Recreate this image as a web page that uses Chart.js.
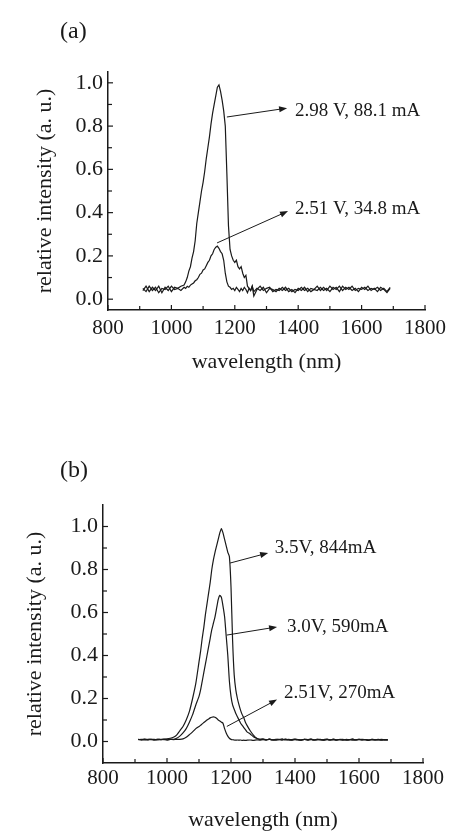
<!DOCTYPE html>
<html>
<head>
<meta charset="utf-8">
<script src="https://cdn.jsdelivr.net/npm/chart.js@4.4.1/dist/chart.umd.min.js"></script>
<style>
    body { margin: 0; background: #fff; }
    .panel { position: absolute; left: 0; width: 454px; }
</style>
</head>
<body>
<div class="panel" style="top:0;height:400px"><canvas id="chartA" width="454" height="400"></canvas></div>
<div class="panel" style="top:420px;height:411px"><canvas id="chartB" width="454" height="411"></canvas></div>
<script>
// tick positions (labels only on every second one)
const xTicks = [800, 900, 1000, 1100, 1200, 1300, 1400, 1500, 1600, 1700, 1800];
const yTicks = [0, 0.1, 0.2, 0.3, 0.4, 0.5, 0.6, 0.7, 0.8, 0.9, 1.0];

// panel (a) - wavelength in nm
const wavelengthA = [
    910, 920, 930, 940, 950, 960, 970, 980, 990, 1000, 1010, 1020, 1030, 1040,
    1045, 1050, 1055, 1060, 1065, 1070, 1075, 1080, 1085, 1090,
    1095, 1100, 1105, 1110, 1115, 1120, 1125, 1130, 1135, 1140,
    1145, 1150, 1155, 1160, 1165, 1170, 1175, 1180, 1185, 1190,
    1195, 1200, 1205, 1210, 1215, 1220, 1225, 1230, 1235, 1240,
    1245, 1250, 1255, 1260,
    1270, 1280, 1290, 1300, 1310, 1320, 1330, 1340, 1350, 1360,
    1370, 1380, 1390, 1400, 1410, 1420, 1430, 1440, 1450, 1460,
    1470, 1480, 1490, 1500, 1510, 1520, 1530, 1540, 1550, 1560,
    1570, 1580, 1590, 1600, 1610, 1620, 1630, 1640, 1650, 1660,
    1670, 1680, 1690
];
const intensityA298 = [
    .05, .035, .06, .04, .055, .03, .05, .045, .06, .035, .055, .05, .06, .065,
    .08, .10, .13, .15, .19, .22, .27, .35, .40, .45,
    .50, .54, .59, .65, .70, .75, .81, .86, .90, .94,
    .98, .99, .96, .92, .87, .80, .58, .34, .23, .20,
    .18, .17, .18, .15, .14, .15, .12, .10, .11, .06,
    .05, .04, .06, .035,
    .05, .04, .055, .03, .05, .045, .035, .05, .04, .055,
    .035, .045, .03, .05, .04, .055, .035, .05, .045, .06,
    .04, .055, .04, .06, .045, .055, .035, .06, .045, .055,
    .04, .05, .035, .055, .045, .06, .04, .05, .035, .055,
    .045, .03, .05
];
const intensityA251 = [
    .04, .06, .035, .055, .04, .06, .03, .055, .04, .06, .045, .05, .04, .055,
    .05, .06, .055, .065, .07, .075, .085, .09, .10, .115,
    .12, .135, .14, .155, .17, .18, .20, .21, .23, .24,
    .245, .235, .22, .21, .18, .12, .08, .06, .055, .045,
    .05, .04, .055, .045, .035, .05, .04, .055, .045, .03,
    .05, .04, .06, .015,
    .045, .06, .04, .05, .055, .035, .045, .04, .055, .04,
    .05, .035, .045, .04, .055, .04, .05, .035, .045, .04,
    .055, .04, .05, .035, .055, .045, .06, .04, .055, .045,
    .06, .04, .05, .045, .055, .04, .05, .045, .055, .04,
    .05, .035, .055
];

// panel (b)
const wavelengthB = [
    910, 920, 930, 940, 950, 960, 970, 980, 990, 1000,
    1010, 1020, 1030, 1040, 1050, 1060, 1070, 1080, 1090,
    1100, 1105, 1110, 1115, 1120, 1125, 1130, 1135, 1140, 1145,
    1150, 1155, 1160, 1165, 1170, 1175, 1180, 1185, 1190, 1195,
    1200, 1205, 1210, 1215, 1220, 1225, 1230, 1235, 1240, 1245, 1250,
    1260, 1270, 1280, 1290, 1300, 1310, 1320, 1330, 1340, 1350,
    1360, 1370, 1380, 1390, 1400, 1410, 1420, 1430, 1440, 1450,
    1460, 1470, 1480, 1490, 1500, 1510, 1520, 1530, 1540, 1550,
    1560, 1570, 1580, 1590, 1600, 1610, 1620, 1630, 1640, 1650,
    1660, 1670, 1680, 1690
];
const intensityB35 = [
    .01, .008, .01, .007, .01, .008, .01, .009, .01, .012,
    .015, .02, .03, .05, .07, .10, .14, .20, .27,
    .37, .42, .48, .53, .59, .64, .69, .74, .80, .845,
    .88, .91, .94, .97, .99, .97, .94, .91, .88, .86,
    .72, .47, .31, .24, .20, .17, .145, .125, .11, .09, .075,
    .05, .03, .015, .01, .012, .008, .011, .007, .01, .009,
    .012, .007, .01, .008, .011, .009, .006, .01, .008, .011,
    .007, .01, .009, .006, .01, .008, .011, .007, .009, .01,
    .006, .009, .011, .007, .01, .008, .009, .006, .01, .008,
    .01, .007, .009, .006
];
const intensityB30 = [
    .008, .01, .007, .01, .009, .01, .008, .01, .009, .008,
    .01, .01, .015, .025, .04, .06, .09, .125, .17,
    .21, .24, .28, .32, .36, .40, .44, .48, .52, .55,
    .58, .62, .66, .68, .67, .63, .58, .49, .40, .28,
    .21, .17, .15, .13, .115, .10, .085, .075, .065, .055, .045,
    .035, .022, .015, .01, .01, .008, .011, .007, .009, .01,
    .008, .011, .007, .009, .01, .008, .006, .01, .009, .011,
    .007, .01, .008, .009, .011, .007, .01, .008, .009, .006,
    .01, .008, .011, .007, .009, .01, .008, .006, .01, .009,
    .007, .01, .008, .009
];
const intensityB251 = [
    .01, .008, .011, .009, .01, .008, .01, .009, .011, .008,
    .01, .009, .01, .01, .012, .02, .032, .045, .06,
    .07, .075, .082, .088, .094, .10, .105, .11, .113, .115,
    .113, .108, .10, .095, .09, .085, .06, .04, .025, .015,
    .01, .008, .007, .006, .007, .006, .007, .005, .006, .005, .006,
    .007, .005, .008, .006, .009, .007, .01, .008, .006, .009,
    .007, .01, .008, .006, .009, .007, .008, .01, .006, .009,
    .007, .008, .01, .006, .009, .007, .008, .006, .01, .008,
    .007, .009, .006, .008, .01, .007, .009, .006, .008, .007,
    .009, .006, .008, .007
];

// labels with arrows, in data units: text at [x, y], arrow from -> to
const notesA = [
    { text: '2.98 V, 88.1 mA', at: [1390, 0.87], from: [1175, 0.842], to: [1365, 0.883] },
    { text: '2.51 V, 34.8 mA', at: [1390, 0.417], from: [1144, 0.26], to: [1368, 0.407] }
];
const notesB = [
    { text: '3.5V, 844mA', at: [1337, 0.9], from: [1197, 0.83], to: [1316, 0.877] },
    { text: '3.0V, 590mA', at: [1375, 0.533], from: [1187, 0.495], to: [1344, 0.533] },
    { text: '2.51V, 270mA', at: [1366, 0.226], from: [1187, 0.07], to: [1344, 0.195] }
];

const serif = '"Liberation Serif", "DejaVu Serif", serif';
const ink = '#1a1a1a';

function toPoints(xs, ys) {
    return xs.map((x, i) => ({ x: x, y: ys[i] }));
}

function lineSet(label, xs, ys, tension) {
    return {
        label: label,
        data: toPoints(xs, ys),
        borderColor: ink,
        borderWidth: 1.2,
        fill: false,
        pointRadius: 0,
        pointHoverRadius: 0,
        tension: tension
    };
}

// inward tick marks, annotations and the panel letter
function extrasPlugin(notes, letter, letterY) {
    return {
        id: 'extras',
        afterDatasetsDraw(chart) {
            const c = chart.ctx;
            const area = chart.chartArea;
            const xs = chart.scales.x;
            const ys = chart.scales.y;
            c.save();
            c.strokeStyle = ink;
            c.lineWidth = 1.2;
            xs.ticks.forEach(t => {
                const px = xs.getPixelForValue(t.value);
                const len = t.label !== '' ? 5 : 4;
                c.beginPath();
                c.moveTo(px, area.bottom);
                c.lineTo(px, area.bottom - len);
                c.stroke();
            });
            ys.ticks.forEach(t => {
                const py = ys.getPixelForValue(t.value);
                const len = t.label !== '' ? 5 : 4;
                c.beginPath();
                c.moveTo(area.left, py);
                c.lineTo(area.left + len, py);
                c.stroke();
            });

            c.fillStyle = ink;
            c.font = '19px ' + serif;
            c.textBaseline = 'middle';
            c.textAlign = 'left';
            c.lineWidth = 1;
            notes.forEach(n => {
                const x1 = xs.getPixelForValue(n.from[0]);
                const y1 = ys.getPixelForValue(n.from[1]);
                const x2 = xs.getPixelForValue(n.to[0]);
                const y2 = ys.getPixelForValue(n.to[1]);
                const ang = Math.atan2(y2 - y1, x2 - x1);
                c.beginPath();
                c.moveTo(x1, y1);
                c.lineTo(x2 - 6 * Math.cos(ang), y2 - 6 * Math.sin(ang));
                c.stroke();
                c.beginPath();
                c.moveTo(x2, y2);
                c.lineTo(x2 - 8 * Math.cos(ang) + 3 * Math.sin(ang), y2 - 8 * Math.sin(ang) - 3 * Math.cos(ang));
                c.lineTo(x2 - 8 * Math.cos(ang) - 3 * Math.sin(ang), y2 - 8 * Math.sin(ang) + 3 * Math.cos(ang));
                c.closePath();
                c.fill();
                c.fillText(n.text, xs.getPixelForValue(n.at[0]), ys.getPixelForValue(n.at[1]));
            });

            c.font = '24px ' + serif;
            c.fillText(letter, 60, letterY);
            c.restore();
        }
    };
}

function makeOptions(p) {
    return {
        responsive: false,
        animation: false,
        layout: { padding: { top: p.padTop, right: p.padRight, left: 0, bottom: 0 } },
        scales: {
            x: {
                type: 'linear',
                min: 800,
                max: 1800,
                afterBuildTicks: s => { s.ticks = xTicks.map(v => ({ value: v })); },
                afterFit: s => { s.height = p.xHeight; },
                grid: { display: false, drawTicks: false },
                border: { display: true, color: ink, width: 1.5 },
                ticks: {
                    autoSkip: false,
                    maxRotation: 0,
                    padding: p.xLabelPad,
                    color: ink,
                    font: { family: serif, size: 21 },
                    callback: v => (v % 200 === 0 ? String(v) : '')
                },
                title: {
                    display: true,
                    text: 'wavelength (nm)',
                    color: ink,
                    font: { family: serif, size: 22, lineHeight: 1 },
                    padding: { top: 0, bottom: p.xTitlePad }
                }
            },
            y: {
                type: 'linear',
                min: p.yMin,
                max: p.yMax,
                afterBuildTicks: s => { s.ticks = yTicks.map(v => ({ value: v })); },
                afterFit: s => { s.width = p.yWidth; },
                grid: { display: false, drawTicks: false },
                border: { display: true, color: ink, width: 1.5 },
                ticks: {
                    autoSkip: false,
                    padding: 5,
                    color: ink,
                    font: { family: serif, size: 22 },
                    callback: v => (Math.round(v * 10) % 2 === 0 ? v.toFixed(1) : '')
                },
                title: {
                    display: true,
                    text: 'relative intensity (a. u.)',
                    color: ink,
                    font: { family: serif, size: 22, lineHeight: 1 },
                    padding: { top: p.yTitlePad, bottom: 0 }
                }
            }
        },
        plugins: {
            legend: { display: false },
            tooltip: { enabled: false }
        }
    };
}

const chartA = new Chart(document.getElementById('chartA').getContext('2d'), {
    type: 'line',
    data: {
        datasets: [
            lineSet('2.98 V, 88.1 mA', wavelengthA, intensityA298, 0),
            lineSet('2.51 V, 34.8 mA', wavelengthA, intensityA251, 0)
        ]
    },
    options: makeOptions({
        padTop: 72, padRight: 29, xHeight: 90, yWidth: 108,
        yMin: -0.05, yMax: 1.05, xLabelPad: 6, xTitlePad: 27, yTitlePad: 34
    }),
    plugins: [extrasPlugin(notesA, '(a)', 32)]
});

const chartB = new Chart(document.getElementById('chartB').getContext('2d'), {
    type: 'line',
    data: {
        datasets: [
            lineSet('3.5V, 844mA', wavelengthB, intensityB35, 0.2),
            lineSet('3.0V, 590mA', wavelengthB, intensityB30, 0.2),
            lineSet('2.51V, 270mA', wavelengthB, intensityB251, 0.2)
        ]
    },
    options: makeOptions({
        padTop: 85, padRight: 31, xHeight: 68, yWidth: 103,
        yMin: -0.1, yMax: 1.1, xLabelPad: 3, xTitlePad: 0, yTitlePad: 24
    }),
    plugins: [extrasPlugin(notesB, '(b)', 51)]
});
</script>
</body>
</html>
